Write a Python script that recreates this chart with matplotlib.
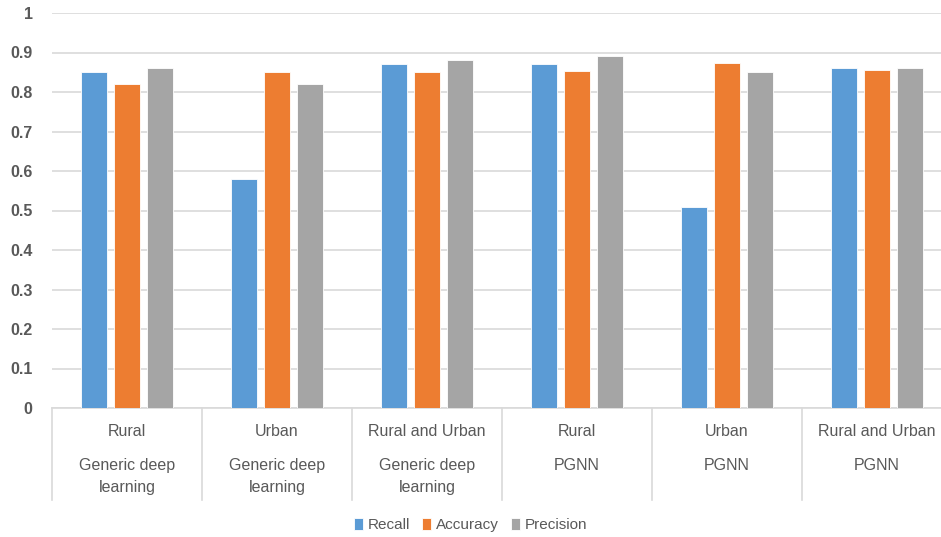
from matplotlib import pyplot as plt
from matplotlib.lines import Line2D
import numpy as np

regions = ['Rural', 'Urban', 'Rural and Urban', 'Rural', 'Urban', 'Rural and Urban']
methods = ['Generic deep\nlearning', 'Generic deep\nlearning', 'Generic deep\nlearning',
           'PGNN', 'PGNN', 'PGNN']
series_names = ['Recall', 'Accuracy', 'Precision']
recall = [0.85, 0.58, 0.87, 0.87, 0.51, 0.86]
accuracy = [0.82, 0.85, 0.85, 0.853, 0.873, 0.855]
precision = [0.86, 0.82, 0.88, 0.89, 0.85, 0.86]
yticks = [0, 0.1, 0.2, 0.3, 0.4, 0.5, 0.6, 0.7, 0.8, 0.9, 1]

#--------------------------------------------------------------------------------------------------
def main():
    plt.rcParams['font.family'] = ['Liberation Sans Narrow', 'Liberation Sans', 'DejaVu Sans']
    txt = '#595959'
    colors = ['#5B9BD5', '#ED7D31', '#A5A5A5']

    W, H = 941, 537
    fig = plt.figure(figsize=(W/100, H/100), dpi=100)
    left, right, top, bot = 52, 952, 13, 408
    ax = fig.add_axes([left/W, (H-bot)/H, (right-left)/W, (bot-top)/H])

    x = np.arange(len(regions))
    width = 0.175
    step = 0.222
    for i, vals in enumerate([recall, accuracy, precision]):
        ax.bar(x + (i-1)*step, vals, width, color=colors[i], label=series_names[i],
               edgecolor='white', linewidth=0.6, zorder=3)

    ax.set_xlim(-0.5, len(regions)-0.5)
    ax.set_ylim(0, 1)
    ax.set_yticks(yticks)
    ax.set_yticklabels(['%g' % v for v in yticks], color=txt, fontsize=11.5, fontweight='bold')
    ax.tick_params(axis='y', length=0, pad=14)
    ax.set_xticks([])
    ax.grid(axis='y', color='#d9d9d9', linewidth=1.2, zorder=0)
    for s in ['left', 'right', 'top']:
        ax.spines[s].set_visible(False)
    ax.spines['bottom'].set_color('#d9d9d9')
    ax.spines['bottom'].set_linewidth(1.2)

    # category separators and two-level labels
    trans = ax.get_xaxis_transform()
    depth = 92/(bot-top)
    for b in np.arange(len(regions)+1) - 0.5:
        ax.add_line(Line2D([b, b], [0, -depth], transform=trans, color='#d9d9d9',
                           linewidth=1.2, clip_on=False))
    for xi, r, m in zip(x, regions, methods):
        ax.text(xi, -24/(bot-top), r, transform=trans, ha='center', va='center',
                color=txt, fontsize=11.5)
        ax.text(xi, -50/(bot-top), m, transform=trans, ha='center', va='top',
                color=txt, fontsize=11.5, linespacing=1.6)

    fig.legend(loc='center', bbox_to_anchor=(0.5, (H-525)/H), ncol=3, frameon=False,
               fontsize=11, handlelength=0.6, handleheight=0.9, handletextpad=0.3,
               columnspacing=0.8, labelcolor=txt)

    plt.savefig('out.png', dpi=100)
#--------------------------------------------------------------------------------------------------

if __name__=='__main__':
    main()
